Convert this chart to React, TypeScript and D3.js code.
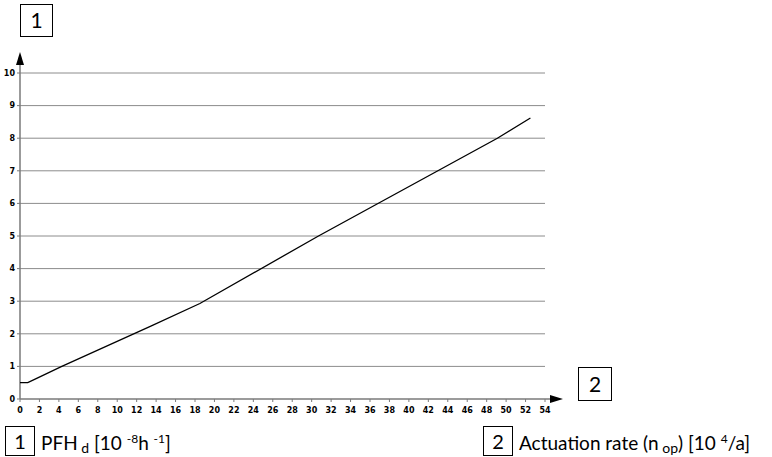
import React from 'react';
import { scaleLinear, line, range } from 'd3';

// readings: actuation rate [10^4/a] vs PFHd [10^-8 h^-1]
const rateValues = [0, 0.8, 1.5, 4.3, 13.4, 18.5, 30.7, 49.1, 52.5];
const pfhValues = [0.5, 0.5, 0.6, 1.0, 2.23, 2.93, 5.0, 8.0, 8.62];
const xTicks = range(0, 56, 2);
const yTicks = range(0, 11, 1);

const width = 772;
const height = 457;
const x0 = 20;
const xEnd = 545;
const yBottom = 399;
const yTop = 73;

const tickFont = "'DejaVu Sans', sans-serif";
const labelFont = "Lato, 'Noto Sans', sans-serif";

function App() {
  const x = scaleLinear().domain([0, 54]).range([x0, xEnd]);
  const y = scaleLinear().domain([0, 10]).range([yBottom, yTop]);
  const pts: [number, number][] = rateValues.map((r, i) => [r, pfhValues[i]]);
  const path = line<[number, number]>().x(d => x(d[0])).y(d => y(d[1]))(pts);

  return (
    <svg width={width} height={height} style={{ position: 'absolute', left: 0, top: 0, background: '#fff' }}>
      {/* grid */}
      {yTicks.filter(t => t > 0).map(t => (
        <line key={t} x1={x0} x2={xEnd} y1={y(t)} y2={y(t)} stroke="#8c8c8c" strokeWidth={1} />
      ))}
      {/* axes */}
      <line x1={x0} x2={x0} y1={yBottom} y2={60} stroke="#7a7a7a" strokeWidth={1.5} />
      <path d={`M${x0},52 L${x0 - 4},65 L${x0 + 4},65 Z`} fill="#000" />
      <line x1={x0} x2={552} y1={yBottom} y2={yBottom} stroke="#7a7a7a" strokeWidth={1.5} />
      <path d={`M563,${yBottom} L550,${yBottom - 4} L550,${yBottom + 4} Z`} fill="#000" />
      {yTicks.map(t => (
        <g key={t}>
          <line x1={x0 - 3} x2={x0} y1={y(t)} y2={y(t)} stroke="#7a7a7a" />
          <text x={x0 - 5} y={y(t)} dy="0.35em" textAnchor="end" fontFamily={tickFont} fontWeight="bold" fontSize={8} fill="#000">{t}</text>
        </g>
      ))}
      {xTicks.map(t => (
        <g key={t}>
          <line x1={x(t)} x2={x(t)} y1={yBottom} y2={yBottom + 3} stroke="#7a7a7a" />
          <text x={x(t)} y={yBottom + 14} textAnchor="middle" fontFamily={tickFont} fontWeight="bold" fontSize={8} fill="#000">{t}</text>
        </g>
      ))}
      {/* curve */}
      <path d={path || ''} fill="none" stroke="#000" strokeWidth={1.3} />

      {/* boxes */}
      <rect x={20.5} y={4.5} width={32} height={32} fill="none" stroke="#000" strokeWidth={1} />
      <text x={36.5} y={28} textAnchor="middle" fontFamily={labelFont} fontSize={21}>1</text>
      <rect x={578.5} y={367.5} width={33} height={33} fill="none" stroke="#000" strokeWidth={1} />
      <text x={595} y={391.5} textAnchor="middle" fontFamily={labelFont} fontSize={21}>2</text>

      <rect x={5.5} y={426.5} width={29} height={29} fill="none" stroke="#000" strokeWidth={1} />
      <text x={20} y={448.5} textAnchor="middle" fontFamily={labelFont} fontSize={20}>1</text>
      <text x={41} y={450} fontFamily={labelFont} fontSize={19}>
        PFH<tspan fontSize={14} dy={3}> d</tspan><tspan dy={-3}> [10 </tspan>
        <tspan fontSize={12} dy={-7}>-8</tspan><tspan dy={7}>h </tspan>
        <tspan fontSize={12} dy={-7}>-1</tspan><tspan dy={7}>]</tspan>
      </text>

      <rect x={483.5} y={426.5} width={29} height={29} fill="none" stroke="#000" strokeWidth={1} />
      <text x={498} y={448.5} textAnchor="middle" fontFamily={labelFont} fontSize={20}>2</text>
      <text x={519} y={450} fontFamily={labelFont} fontSize={19}>
        Actuation rate (n<tspan fontSize={14} dy={3}> op</tspan><tspan dy={-3}>) [10 </tspan>
        <tspan fontSize={12} dy={-7}>4</tspan><tspan dy={7}>/a]</tspan>
      </text>
    </svg>
  );
}

export default App;
